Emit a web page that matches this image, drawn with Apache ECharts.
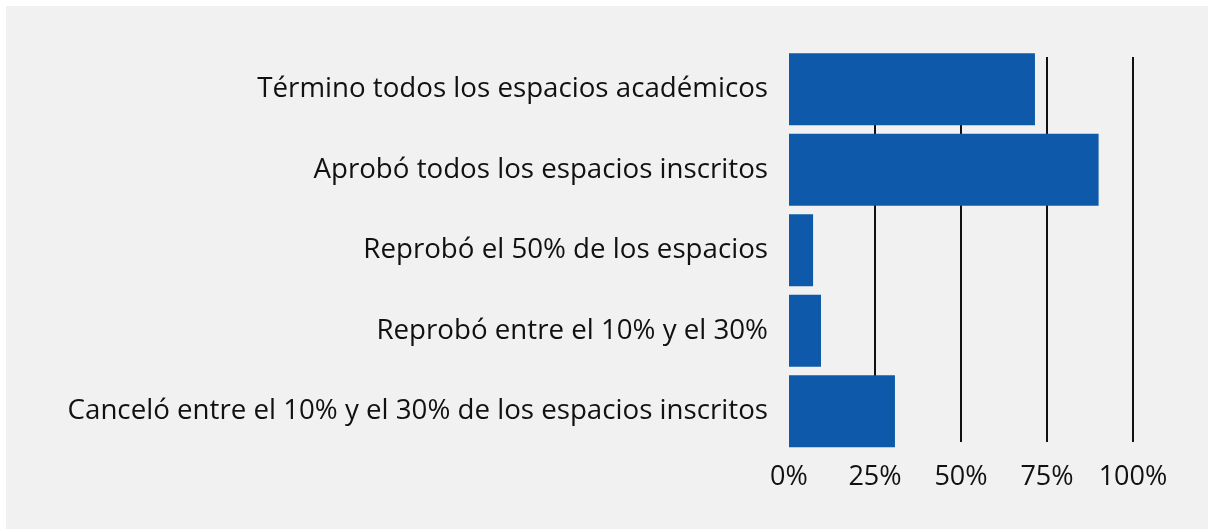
<!DOCTYPE html>
<html>
<head>
<meta charset="utf-8">
<script src="https://cdn.jsdelivr.net/npm/echarts@6/dist/echarts.min.js"></script>
<style>
  html, body { margin: 0; padding: 0; background: #fff; }
  #chart { position: absolute; left: 6px; top: 6px; width: 1202px; height: 523px; }
</style>
</head>
<body>
<div id="chart"></div>
<script>
const categories = [
  'Término todos los espacios académicos',
  'Aprobó todos los espacios inscritos',
  'Reprobó el 50% de los espacios',
  'Reprobó entre el 10% y el 30%',
  'Canceló entre el 10% y el 30% de los espacios inscritos'
]
const values = [71.5, 90, 7, 9.3, 30.8]
const tickValues = [0, 25, 50, 75, 100]

const font = 'Open Sans'
const chart = echarts.init(document.getElementById('chart'))

chart.setOption({
  backgroundColor: '#f1f1f1',
  animation: false,
  grid: [
    // bars
    { left: 783, right: 75, top: 43, bottom: 77.5 },
    // vertical guide lines (slightly shorter than bar area)
    { left: 783, right: 75, top: 51, bottom: 87 }
  ],
  xAxis: [
    {
      gridIndex: 0,
      type: 'value',
      min: 0,
      max: 100,
      interval: 25,
      axisLine: { show: false },
      axisTick: { show: false },
      splitLine: { show: false },
      axisLabel: {
        margin: 12,
        fontFamily: font,
        fontSize: 27,
        color: '#111',
        formatter: v => tickValues.includes(v) ? v + '%' : ''
      }
    },
    {
      gridIndex: 1,
      type: 'value',
      min: 0,
      max: 100,
      interval: 25,
      axisLine: { show: false },
      axisTick: { show: false },
      axisLabel: { show: false },
      splitLine: {
        show: true,
        showMinLine: false,
        lineStyle: { color: '#111', width: 2 }
      }
    }
  ],
  yAxis: [
    {
      gridIndex: 0,
      type: 'category',
      inverse: true,
      data: categories,
      axisLine: { show: false },
      axisTick: { show: false },
      axisLabel: {
        margin: 21,
        fontFamily: font,
        fontSize: 27.7,
        color: '#111'
      }
    },
    {
      gridIndex: 1,
      type: 'category',
      show: false,
      data: categories
    }
  ],
  series: [
    {
      type: 'bar',
      xAxisIndex: 0,
      yAxisIndex: 0,
      data: values,
      barCategoryGap: '10.5%',
      itemStyle: { color: '#0e59a9' },
      z: 5
    }
  ]
})
</script>
</body>
</html>
